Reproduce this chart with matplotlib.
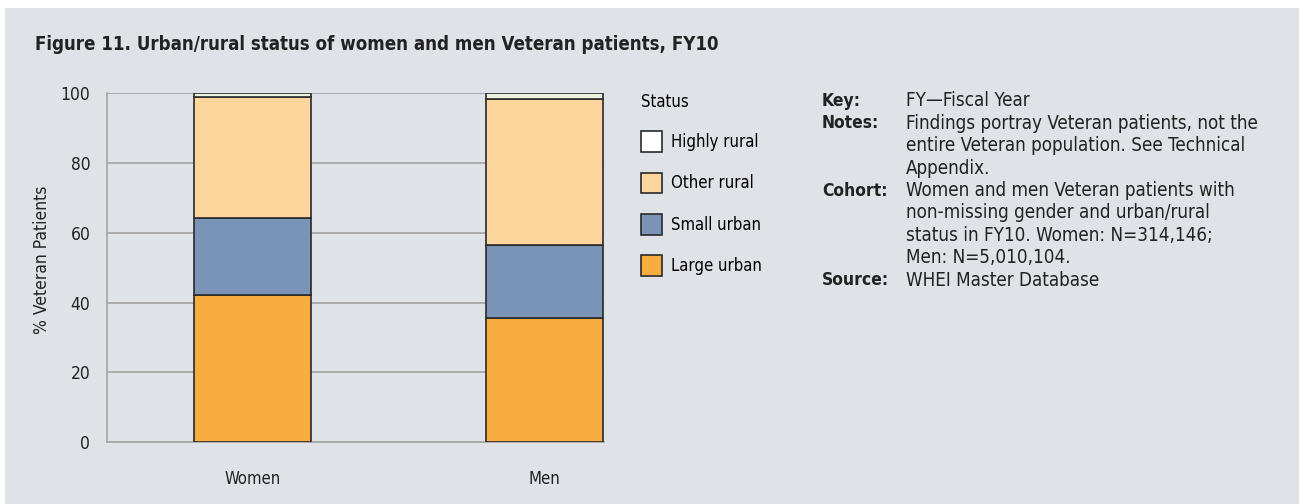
import matplotlib
matplotlib.use("Agg")
import matplotlib.pyplot as plt
from matplotlib import font_manager
from matplotlib.patches import Patch, Rectangle

# data (percent of Veteran patients)
groups = ["Women", "Men"]
large_urban = [42.2, 35.6]
small_urban = [22.0, 20.9]
other_rural = [34.6, 41.9]
highly_rural = [1.2, 1.6]

status_labels = ["Highly rural", "Other rural", "Small urban", "Large urban"]
yticks = [0, 20, 40, 60, 80, 100]

title = "Figure 11. Urban/rural status of women and men Veteran patients, FY10"
note_keys = ["Key:", "Notes:", "", "", "Cohort:", "", "", "", "Source:"]
note_lines = [
    "FY\u2014Fiscal Year",
    "Findings portray Veteran patients, not the",
    "entire Veteran population. See Technical",
    "Appendix.",
    "Women and men Veteran patients with",
    "non-missing gender and urban/rural",
    "status in FY10. Women: N=314,146;",
    "Men: N=5,010,104.",
    "WHEI Master Database",
]

BG = "#dfe2e7"
C_LARGE = "#f8ad40"
C_SMALL = "#7a94b8"
C_OTHER = "#fdd69e"
C_HIGH = "#edf1df"

# pick a narrow face if one is around
names = {f.name for f in font_manager.fontManager.ttflist}
if "Liberation Sans Narrow" in names:
    FAM = ["Liberation Sans Narrow", "DejaVu Sans"]
    STRETCH = "normal"
else:
    FAM = ["DejaVu Sans"]
    STRETCH = "condensed"
plt.rcParams["font.family"] = FAM
plt.rcParams["font.stretch"] = STRETCH

W, H = 1299, 504
fig = plt.figure(figsize=(W / 100, H / 100), dpi=100)
fig.patch.set_facecolor(BG)
# thin white border along the top and left edge
fig.patches.append(Rectangle((0, 1 - 8 / H), 1, 8 / H, transform=fig.transFigure,
                             facecolor="white", edgecolor="none", zorder=-5))
fig.patches.append(Rectangle((0, 0), 5 / W, 1, transform=fig.transFigure,
                             facecolor="white", edgecolor="none", zorder=-5))

fig.text(35 / W, 1 - 45 / H, title, fontsize=13.4, fontweight="bold",
         va="center", ha="left", color="#222222")

ax = fig.add_axes([107 / W, 1 - 442 / H, 497 / W, 348.7 / H])
ax.set_facecolor(BG)
x = range(len(groups))
bw = 0.4
ec = "#2a2a2a"
b2 = [a + b for a, b in zip(large_urban, small_urban)]
b3 = [a + b for a, b in zip(b2, other_rural)]
ax.bar(x, large_urban, bw, color=C_LARGE, edgecolor=ec, linewidth=1.2, zorder=3)
ax.bar(x, small_urban, bw, bottom=large_urban, color=C_SMALL, edgecolor=ec, linewidth=1.2, zorder=3)
ax.bar(x, other_rural, bw, bottom=b2, color=C_OTHER, edgecolor=ec, linewidth=1.2, zorder=3)
ax.bar(x, highly_rural, bw, bottom=b3, color=C_HIGH, edgecolor=ec, linewidth=1.2, zorder=3)

ax.set_xlim(-0.498, 1.204)
ax.set_ylim(0, 100)
ax.set_yticks(yticks)
ax.set_xticks(list(x))
ax.set_xticklabels(groups)
ax.tick_params(length=0, labelsize=12.5, colors="#222222")
ax.tick_params(axis="y", pad=12)
ax.tick_params(axis="x", pad=20, labelsize=12)
ax.yaxis.grid(True, color="#a8a8a8", linewidth=1.3, zorder=0)
for s in ["top", "right"]:
    ax.spines[s].set_visible(False)
for s in ["left", "bottom"]:
    ax.spines[s].set_color("#a8a8a8")
    ax.spines[s].set_linewidth(1.3)
ax.set_ylabel("% Veteran Patients", fontsize=12.5, color="#222222")
ax.yaxis.set_label_coords(-0.113, 0.522)

handles = [Patch(facecolor=c, edgecolor=ec, linewidth=1.2)
           for c in ["white", C_OTHER, C_SMALL, C_LARGE]]
leg = fig.legend(handles, status_labels, title="Status", loc="upper left",
                 bbox_to_anchor=(626 / W, 1 - 78 / H), frameon=False,
                 fontsize=12, title_fontsize=12, handlelength=1.25, handleheight=1.55,
                 labelspacing=1.22, handletextpad=0.55, alignment="left")

y0 = 101
for i, (k, t) in enumerate(zip(note_keys, note_lines)):
    yy = 1 - (y0 + i * 22.4) / H
    if k:
        fig.text(822 / W, yy, k, fontsize=12.5, fontweight="bold", va="center", color="#222222")
    fig.text(906 / W, yy, t, fontsize=13.5, va="center", color="#222222")

fig.savefig("out.png", dpi=100, facecolor=fig.get_facecolor())
